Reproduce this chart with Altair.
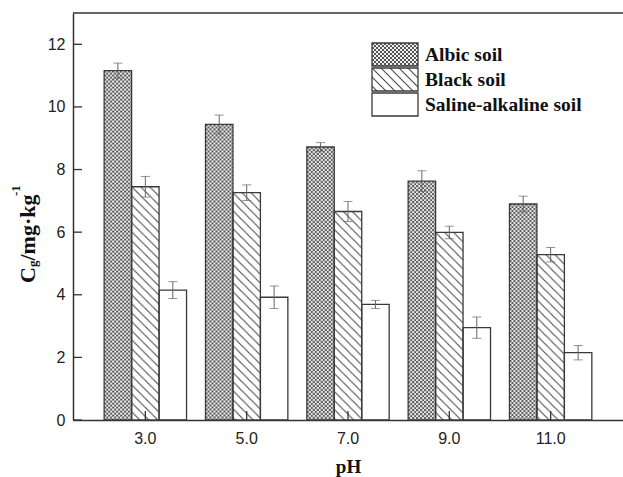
import base64
import altair as alt
import pandas as pd

# ---------------- data ----------------
ph = ["3.0", "5.0", "7.0", "9.0", "11.0"]
soils = ["Albic soil", "Black soil", "Saline-alkaline soil"]
albic = [11.16, 9.44, 8.72, 7.63, 6.90]
albic_err = [0.24, 0.30, 0.14, 0.33, 0.25]
black = [7.45, 7.26, 6.66, 5.99, 5.28]
black_err = [0.33, 0.25, 0.32, 0.20, 0.23]
saline = [4.15, 3.92, 3.69, 2.95, 2.15]
saline_err = [0.27, 0.36, 0.13, 0.34, 0.23]
y_ticks = [0, 2, 4, 6, 8, 10, 12]

rows = []
for s, vals, errs in zip(soils, [albic, black, saline], [albic_err, black_err, saline_err]):
    for p, v, e in zip(ph, vals, errs):
        rows.append({"ph": p, "soil": s, "value": v, "lo": v - e, "hi": v + e})
df = pd.DataFrame(rows)
legend_df = pd.DataFrame({"soil": soils, "idx": list(range(len(soils)))})

# ---------------- styles ----------------
W, H = 550, 407
SERIF = "Liberation Serif"
SANS = "Liberation Sans"
INK = "#333333"


def svg_uri(body, w, h):
    svg = (
        '<svg xmlns="http://www.w3.org/2000/svg" width="100%" height="100%">'
        f'<defs><pattern id="p" patternUnits="userSpaceOnUse" width="{w}" height="{h}">{body}</pattern></defs>'
        '<rect x="0" y="0" width="100%" height="100%" fill="url(#p)"/></svg>'
    )
    return "data:image/svg+xml;base64," + base64.b64encode(svg.encode()).decode()


CROSS = svg_uri(
    '<rect width="4" height="4" fill="#f0f0f0"/>'
    '<rect width="2" height="2" fill="#555555"/>'
    '<rect x="2" y="2" width="2" height="2" fill="#555555"/>',
    4, 4,
)
HATCH = svg_uri(
    '<rect width="9" height="9" fill="#ffffff"/>'
    '<path d="M-1,-1L10,10M-1,8L1,10M8,-1L10,1" stroke="#4a4a4a" stroke-width="1.1" fill="none"/>',
    9, 9,
)

x_axis = alt.Axis(
    title="pH", labelFont=SANS, labelFontSize=16, labelColor="#222", labelPadding=10,
    ticks=False, tickSize=0, labelAngle=0,
    titleFont=SERIF, titleFontWeight="bold", titleFontSize=19, titleColor="#111", titlePadding=11,
    domainColor=INK, domainWidth=1.5,
)
y_axis = alt.Axis(
    title=None, values=y_ticks, labelFont=SANS, labelFontSize=16, labelColor="#222",
    labelPadding=8, ticks=False, tickSize=0,
    domainColor=INK, domainWidth=1.5,
)
x_scale = alt.Scale(domain=ph, paddingInner=0.187, paddingOuter=0.3075)
y_scale = alt.Scale(domain=[0, 13], nice=False, zero=True)

X = alt.X("ph:N", sort=ph, scale=x_scale, axis=x_axis)
XO = alt.XOffset("soil:N", sort=soils, scale=alt.Scale(domain=soils, paddingInner=0, paddingOuter=0))


def Y(field):
    return alt.Y(field, scale=y_scale, axis=y_axis)


base = alt.Chart(df)

albic_img = base.transform_filter(alt.datum.soil == soils[0]).mark_image(
    url=CROSS, aspect=False
).encode(x=X, xOffset=XO, y=Y("value:Q"))

black_img = base.transform_filter(alt.datum.soil == soils[1]).mark_image(
    url=HATCH, aspect=False
).encode(x=X, xOffset=XO, y=Y("value:Q"))

bars = base.mark_bar(fillOpacity=0, stroke="#3a3a3a", strokeWidth=1.3).encode(
    x=X, xOffset=XO, y=Y("value:Q")
)

err = base.mark_rule(color="#666666", strokeWidth=1).encode(
    x=X, xOffset=XO, y=Y("lo:Q"), y2="hi:Q"
)
cap_lo = base.mark_tick(size=9, thickness=1, color="#666666").encode(x=X, xOffset=XO, y=Y("lo:Q"))
cap_hi = base.mark_tick(size=9, thickness=1, color="#666666").encode(x=X, xOffset=XO, y=Y("hi:Q"))

ytick_rules = alt.Chart(pd.DataFrame({"v": y_ticks})).mark_rule(color=INK, strokeWidth=1.3).encode(
    y=Y("v:Q"), x=alt.value(0), x2=alt.value(9)
)
xtick_rules = alt.Chart(pd.DataFrame({"ph": ph})).mark_rule(color=INK, strokeWidth=1.3).encode(
    x=X, y=alt.value(H - 9), y2=alt.value(H)
)
top_rule = alt.Chart(pd.DataFrame({"a": [0]})).mark_rule(color=INK, strokeWidth=1.5).encode(
    y=alt.value(0), x=alt.value(0), x2=alt.value("width")
)

# ---------------- legend ----------------
leg = alt.Chart(legend_df).transform_calculate(
    y0="30 + 25 * datum.idx", y1="53 + 25 * datum.idx", yc="41.5 + 25 * datum.idx"
)
LY = alt.Y("y0:Q", scale=None, axis=None)
leg_albic = leg.transform_filter(alt.datum.idx == 0).mark_image(url=CROSS, aspect=False).encode(
    x=alt.value(299), x2=alt.value(345), y=LY, y2="y1:Q"
)
leg_black = leg.transform_filter(alt.datum.idx == 1).mark_image(url=HATCH, aspect=False).encode(
    x=alt.value(299), x2=alt.value(345), y=LY, y2="y1:Q"
)
leg_box = leg.mark_rect(fillOpacity=0, stroke="#3a3a3a", strokeWidth=1.3).encode(
    x=alt.value(299), x2=alt.value(345), y=LY, y2="y1:Q"
)
leg_text = leg.mark_text(
    align="left", baseline="middle", font=SERIF, fontWeight="bold", fontSize=19.5, color="#111"
).encode(x=alt.value(352), y=alt.Y("yc:Q", scale=None, axis=None), text="soil:N")

# ---------------- y title (C_g / mg·kg^-1) ----------------
def ytitle(txt, x, y, size):
    return alt.Chart(pd.DataFrame({"t": [txt]})).mark_text(
        angle=270, align="left", baseline="alphabetic", font=SERIF, fontWeight="bold",
        fontSize=size, color="#111"
    ).encode(x=alt.value(x), y=alt.value(y), text="t:N")


t1 = ytitle("C", -38, 270, 22)
t2 = ytitle("g", -36, 254, 13)
t3 = ytitle("/mg·kg", -38, 247.5, 22)
t4 = ytitle("-1", -53, 183, 13)

chart = alt.layer(
    albic_img, black_img, bars, err, cap_lo, cap_hi, ytick_rules, xtick_rules, top_rule,
    leg_albic, leg_black, leg_box, leg_text, t1, t2, t3, t4,
).properties(
    width=W, height=H,
    padding={"left": 73, "top": 13, "right": 0, "bottom": 57},
    autosize=alt.AutoSizeParams(type="none"),
    background="white",
).configure_view(stroke=None).configure_axis(grid=False)

chart.save("out.html", embed_options={"renderer": "svg", "actions": False})
